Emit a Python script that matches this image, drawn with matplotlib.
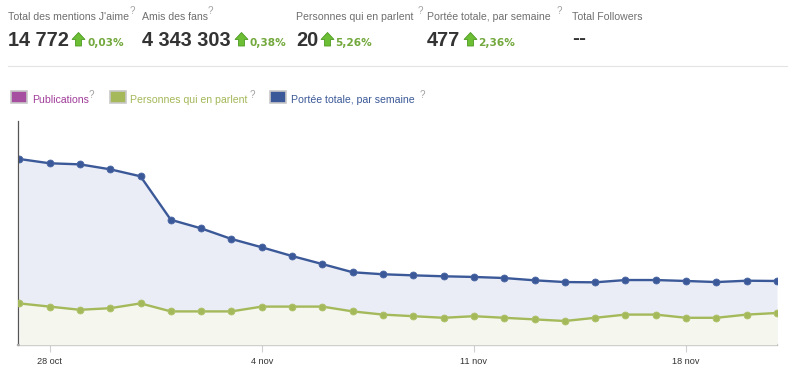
import numpy as np
import matplotlib
matplotlib.use("Agg")
import matplotlib.pyplot as plt
from matplotlib.patches import Polygon, Rectangle
from matplotlib.lines import Line2D

W, H = 795, 377

# one point per day, 27 oct -> 21 nov
dates = np.arange(np.datetime64("2012-10-27"), np.datetime64("2012-11-22"))
portee = [1386, 1354, 1346, 1309, 1257, 933, 869, 790, 728, 663, 603, 542, 527,
          519, 512, 507, 499, 482, 469, 467, 484, 484, 477, 469, 479, 477]
parlent = [26, 24, 22, 23, 26, 21, 21, 21, 24, 24, 24, 21, 19,
           18, 17, 18, 17, 16, 15, 17, 19, 19, 17, 17, 19, 20]
tick_dates = np.array(["2012-10-28", "2012-11-04", "2012-11-11", "2012-11-18"], dtype="datetime64[D]")
tick_labels = ["28 oct", "4 nov", "11 nov", "18 nov"]

stat_labels = ["Total des mentions J'aime", "Amis des fans", "Personnes qui en parlent",
               "Portée totale, par semaine", "Total Followers"]
stat_values = ["14 772", "4 343 303", "20", "477", "--"]
stat_changes = ["0,03%", "0,38%", "5,26%", "2,36%", None]

legend_labels = ["Publications", "Personnes qui en parlent", "Portée totale, par semaine"]
legend_colors = ["#a64ea0", "#a6b95a", "#3b5998"]
legend_text_colors = ["#a03c9a", "#a3b85a", "#3b5998"]

BLUE = "#3b5998"
GREEN = "#a4b95a"


def fx(x):
    return x / W


def fy(y):
    return 1 - y / H


fig = plt.figure(figsize=(W / 100, H / 100), dpi=100)

# header stats
stat_x = [8, 142, 296, 427, 572]
arrow_x = [72, 235, 321, 464]
change_x = [87, 249, 335, 478]
q_pos = [130, 208, 418, 557]
for i, lab in enumerate(stat_labels):
    x = stat_x[i]
    fig.text(fx(x), fy(20), lab, fontsize=7.6, color="#6f6f6f",
             family="Liberation Sans", va="baseline")
    if i < 4:
        fig.text(fx(q_pos[i]), fy(14.5), "?", fontsize=7, color="#a0a0a0",
                 family="Liberation Sans", va="baseline")
    if stat_values[i] == "--":
        fig.text(fx(x), fy(43.5), "--", fontsize=15, color="#333333", weight="bold",
                 family="Liberation Sans", va="baseline")
    else:
        fig.text(fx(x), fy(46.5), stat_values[i], fontsize=14.3, color="#333333",
                 weight="bold", family="Liberation Sans", va="baseline")
    if stat_changes[i]:
        a = arrow_x[i]
        pts = [(a + 6.5, 32.5), (a + 13, 39.5), (a + 9.5, 39.5), (a + 9.5, 46),
               (a + 3.5, 46), (a + 3.5, 39.5), (a, 39.5)]
        fig.add_artist(Polygon([(fx(px), fy(py)) for px, py in pts], closed=True,
                               transform=fig.transFigure, facecolor="#6cbf35",
                               edgecolor="#4e9a22", linewidth=0.6))
        fig.text(fx(change_x[i]), fy(46.5), stat_changes[i], fontsize=7.6,
                 color="#72a83c", weight="bold", family="DejaVu Sans", va="baseline")

fig.add_artist(Line2D([fx(8), fx(787)], [fy(65.5), fy(65.5)], transform=fig.transFigure,
                      color="#e3e3e3", linewidth=0.8))

# legend
sw_x = [11, 110, 270]
txt_x = [32, 130, 291]
q_x = [89, 250, 420]
for i, lab in enumerate(legend_labels):
    fig.add_artist(Rectangle((fx(sw_x[i]), fy(103)), 16 / W, 12 / H, transform=fig.transFigure,
                             facecolor=legend_colors[i], edgecolor="#c8c8c8", linewidth=1.2))
    fig.text(fx(txt_x[i]), fy(103), lab, fontsize=7.6, color=legend_text_colors[i],
             family="Liberation Sans", va="baseline")
    fig.text(fx(q_x[i]), fy(97.5), "?", fontsize=7, color="#a0a0a0",
             family="Liberation Sans", va="baseline")

# chart
ax = fig.add_axes([fx(18), fy(345), 759 / W, 224 / H])
ax.fill_between(dates, portee, 0, color="#eaedf6", linewidth=0)
ax.plot(dates, portee, color=BLUE, linewidth=1.7, marker="o", markersize=5,
        markerfacecolor=BLUE, markeredgecolor="#4a66a3", markeredgewidth=0.6)
ax.set_ylim(0, 1669)

ax2 = ax.twinx()
ax2.fill_between(dates, parlent, 0, color="#f5f7ee", linewidth=0)
ax2.plot(dates, parlent, color=GREEN, linewidth=1.7, marker="o", markersize=5,
         markerfacecolor=GREEN, markeredgecolor="#b0c26c", markeredgewidth=0.6)
ax2.set_ylim(0, 140)

ax.set_xlim(dates[0] - np.timedelta64(1, "h"), dates[-1])
ax.set_xticks(tick_dates)
ax.set_xticklabels(tick_labels, fontsize=6.6, color="#333333", family="Liberation Sans")
ax.tick_params(axis="x", length=5, width=0.8, color="#d0d0d0", pad=4)
ax.set_yticks([])
ax2.set_yticks([])
for a in (ax, ax2):
    for s in ("top", "right"):
        a.spines[s].set_visible(False)
ax2.spines["left"].set_visible(False)
ax2.spines["bottom"].set_visible(False)
ax.spines["left"].set_color("#555555")
ax.spines["left"].set_linewidth(0.9)
ax.spines["bottom"].set_color("#aaaaaa")
ax.spines["bottom"].set_linewidth(1.6)
ax.set_zorder(1)
ax.patch.set_visible(False)
ax2.set_zorder(2)

fig.savefig("out.png", dpi=100)
